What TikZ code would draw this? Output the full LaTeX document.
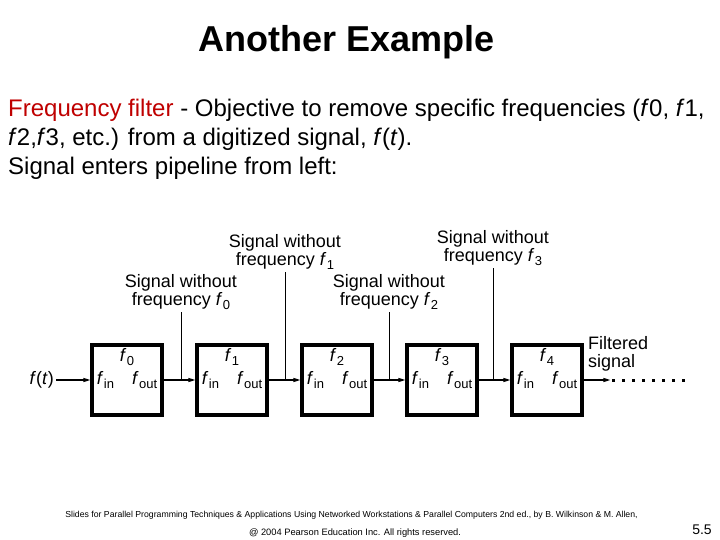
\documentclass[tikz,border=0pt]{standalone}
\usepackage{fontspec}
\setmainfont{Liberation Sans}
\usepackage{xcolor}
\usetikzlibrary{arrows.meta}
\usetikzlibrary{positioning}
\colorlet{dred}{red!75!black}
\newcommand\fq[1]{\textit{f}\kern.5pt\raisebox{-4pt}{\fontsize{13}{13}\selectfont #1}}
\tikzstyle{ttl}=[font=\fontsize{36}{40}\selectfont\bfseries,inner sep=0pt]
\tikzstyle{body}=[font=\fontsize{24}{29}\selectfont,align=left,inner sep=0pt]
\tikzstyle{sig}=[font=\fontsize{18}{18}\selectfont,align=center,inner sep=2pt]
\tikzstyle{flab}=[font=\fontsize{18}{18}\selectfont,inner sep=1pt,yshift=-2pt]
\tikzstyle{filt}=[draw,line width=3.3pt,minimum width=70pt,minimum height=70pt,inner sep=0pt,outer sep=0pt,font=\fontsize{18}{18}\selectfont]
\tikzstyle{foot}=[font=\fontsize{8.7}{10}\selectfont,inner sep=0pt]
\tikzstyle{pgno}=[font=\fontsize{14}{16}\selectfont,inner sep=0pt]
\tikzstyle{pipe}=[line width=1.1pt,>/.tip={Triangle[length=7pt,width=4pt]},->,shorten >=1.6pt]
\tikzstyle{tap}=[line width=.8pt]
\tikzstyle{trail}=[line width=3pt,dash pattern=on 3pt off 7pt]

\begin{document}
\begin{tikzpicture}[x=1pt,y=-1pt]
	\useasboundingbox (0,0) rectangle (720,540);
	\node[ttl,anchor=base] (ttl) at (346.5,51.7) {Another Example};
	\node[body,anchor=north west] (txt) at (8,99) {\textcolor{dred}{Frequency filter} - Objective to remove specific frequencies (\textit{f}0, \textit{f}1,\\\textit{f}2,\textit{f}3, etc.) from a digitized signal, \textit{f}(\textit{t}).\\Signal enters pipeline from left:};
	% the five filter stages
	\node[filt] (b0) at (127,380) {\fq{in}\quad\fq{out}};
	\node[filt,right=35pt of b0] (b1) {\fq{in}\quad\fq{out}};
	\node[filt,right=35pt of b1] (b2) {\fq{in}\quad\fq{out}};
	\node[filt,right=35pt of b2] (b3) {\fq{in}\quad\fq{out}};
	\node[filt,right=35pt of b3] (b4) {\fq{in}\quad\fq{out}};
	\node[flab,below] (k0) at (b0.north) {\fq{0}};
	\node[flab,below] (k1) at (b1.north) {\fq{1}};
	\node[flab,below] (k2) at (b2.north) {\fq{2}};
	\node[flab,below] (k3) at (b3.north) {\fq{3}};
	\node[flab,below] (k4) at (b4.north) {\fq{4}};
	\node[sig,anchor=east] (ft) at (56,380) {\textit{f}(\textit{t})};
	\coordinate (tip) at (612,380);
	\coordinate (tail) at (688,380);
	\draw[pipe] (ft) -- (b0);
	\draw[pipe] (b0) -- (b1);
	\draw[pipe] (b1) -- (b2);
	\draw[pipe] (b2) -- (b3);
	\draw[pipe] (b3) -- (b4);
	\draw[pipe] (b4) -- (tip);
	\draw[trail] (tip) -- (tail);
	% taps between the stages
	\node[sig,anchor=south] (s0) at (181,312) {Signal without\\frequency \fq{0}};
	\node[sig,anchor=south] (s1) at (285,272) {Signal without\\frequency \fq{1}};
	\node[sig,anchor=south] (s2) at (389,312) {Signal without\\frequency \fq{2}};
	\node[sig,anchor=south] (s3) at (493,268) {Signal without\\frequency \fq{3}};
	\coordinate (t0) at (s0 |- b0);
	\coordinate (t1) at (s1 |- b0);
	\coordinate (t2) at (s2 |- b0);
	\coordinate (t3) at (s3 |- b0);
	\draw[tap] (s0) -- (t0);
	\draw[tap] (s1) -- (t1);
	\draw[tap] (s2) -- (t2);
	\draw[tap] (s3) -- (t3);
	\node[sig,align=left,anchor=west] (fs) at (586,354) {Filtered\\signal};
	\node[foot] (cr1) at (351.5,515.7) {Slides for Parallel Programming Techniques \& Applications Using Networked Workstations \& Parallel Computers 2nd ed., by B. Wilkinson \& M. Allen,};
	\node[foot,font=\fontsize{9.3}{10}\selectfont] (cr2) at (355,533) {@ 2004 Pearson Education Inc. All rights reserved.};
	\node[pgno] (pg) at (702,530) {5.5};
\end{tikzpicture}
\end{document}
